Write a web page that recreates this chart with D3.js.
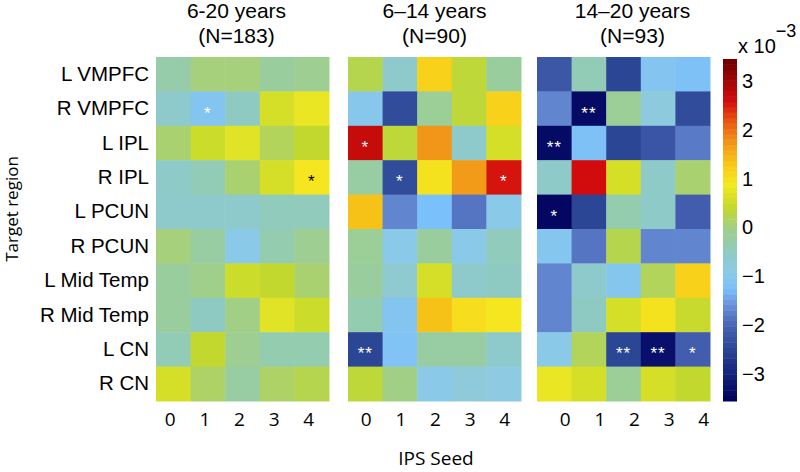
<!DOCTYPE html>
<html><head><meta charset="utf-8">
<script src="https://cdn.jsdelivr.net/npm/d3@7"></script>
<style>
body{margin:0;background:#fff;}
text{font-family:"Liberation Sans",Arial,sans-serif;fill:#000;}
</style></head>
<body><svg id="c" width="800" height="472"></svg>
<script>
const regions = ["L VMPFC","R VMPFC","L IPL","R IPL","L PCUN","R PCUN","L Mid Temp","R Mid Temp","L CN","R CN"];
const seeds = ["0","1","2","3","4"];
const panelTitles = ["6-20 years","6\u201314 years","14\u201320 years"];
const panelN = ["(N=183)","(N=90)","(N=93)"];
// values in units of 1e-3, rows = regions, cols = seeds
const vals620 = [
  [-0.3, 0.05, 0.05, -0.2, -0.1],
  [-0.6, -1.1, -0.5, 0.6, 0.8],
  [0.1, 0.5, 0.7, 0.2, 0.4],
  [-0.55, -0.4, 0.1, 0.6, 0.95],
  [-0.6, -0.6, -0.6, -0.45, -0.45],
  [0.05, -0.25, -0.95, -0.35, -0.1],
  [-0.2, -0.05, 0.5, 0.4, 0.1],
  [-0.2, -0.5, 0.0, 0.7, 0.5],
  [-0.4, 0.4, -0.1, -0.35, -0.35],
  [0.6, 0.15, -0.25, 0.15, 0.25]
];
const vals614 = [
  [0.25, -0.6, 1.2, 0.35, -0.2],
  [-1.0, -2.4, -0.15, 0.35, 1.2],
  [2.7, 0.35, 1.75, -0.6, 0.6],
  [-0.25, -2.4, 1.0, 1.7, 2.55],
  [1.35, -1.7, -1.25, -1.85, -0.95],
  [-0.15, -0.95, -0.2, -0.95, -0.45],
  [-0.2, -0.65, 0.6, -0.6, -0.5],
  [-0.35, -1.1, 1.35, 1.05, 0.95],
  [-2.5, -1.15, -0.25, -0.25, -0.6],
  [0.35, 0.0, -0.95, -0.75, -0.85]
];
const vals1420 = [
  [-2.2, -0.4, -2.5, -1.1, -1.2],
  [-1.7, -3.4, -0.15, -0.8, -2.4],
  [-3.4, -1.2, -2.5, -2.25, -1.8],
  [-0.55, 2.6, 0.6, -0.55, 0.1],
  [-3.45, -2.5, -0.35, -0.55, -2.1],
  [-1.05, -1.85, 0.25, -1.7, -1.7],
  [-1.7, -0.6, -1.05, 0.2, 1.2],
  [-1.7, -0.5, 0.6, 1.0, 0.45],
  [-0.95, 0.2, -2.5, -3.3, -2.1],
  [0.8, 0.6, -0.15, 0.6, 0.4]
];
// significance markers
const sig620 = [
  ["","","","",""],["","*","","",""],["","","","",""],["","","","","*"],["","","","",""],
  ["","","","",""],["","","","",""],["","","","",""],["","","","",""],["","","","",""]
];
const sig614 = [
  ["","","","",""],["","","","",""],["*","","","",""],["","*","","","*"],["","","","",""],
  ["","","","",""],["","","","",""],["","","","",""],["**","","","",""],["","","","",""]
];
const sig1420 = [
  ["","","","",""],["","**","","",""],["**","","","",""],["","","","",""],["*","","","",""],
  ["","","","",""],["","","","",""],["","","","",""],["","","**","**","*"],["","","","",""]
];
const colorbarTicks = [-3,-2,-1,0,1,2,3];
const colorDomain = [-3.55, 3.45];

const panels = [
  {vals: vals620, sig: sig620},
  {vals: vals614, sig: sig614},
  {vals: vals1420, sig: sig1420}
];

const cmapStops = [
  [-3.55,"#00005c"],[-3.0,"#14237c"],[-2.5,"#2c4696"],[-2.0,"#4863b3"],[-1.6,"#6a90da"],
  [-1.25,"#7ac0fa"],[-0.9,"#8ecae6"],[-0.5,"#8ecac2"],[0.0,"#a2cf86"],[0.4,"#c2d82e"],
  [0.9,"#f4ea20"],[1.3,"#f8c818"],[1.8,"#f09018"],[2.2,"#e85410"],[2.6,"#d20c0c"],[3.45,"#6a0000"]
];
const color = d3.scaleLinear().domain(cmapStops.map(d=>d[0])).range(cmapStops.map(d=>d[1])).clamp(true);

const svg = d3.select("#c");
const panelX = [156, 348, 537];
const panelW = 173, topY = 57, H = 344;
const tickShift = [-3, 1, 11];

const y = d3.scaleBand().domain(regions).range([topY, topY+H]);

panels.forEach((p, pi) => {
  const x = d3.scaleBand().domain(seeds).range([panelX[pi], panelX[pi]+panelW]);
  const g = svg.append("g");
  const cells = [];
  p.vals.forEach((row, ri) => row.forEach((v, ci) => cells.push({r: regions[ri], c: seeds[ci], v, s: p.sig[ri][ci]})));
  g.selectAll("rect").data(cells).join("rect")
    .attr("x", d => x(d.c)).attr("y", d => y(d.r))
    .attr("width", x.bandwidth()+0.5).attr("height", y.bandwidth()+0.5)
    .attr("fill", d => color(d.v));
  g.selectAll("text.sig").data(cells.filter(d => d.s)).join("text").attr("class","sig")
    .attr("x", d => x(d.c)+x.bandwidth()/2).attr("y", d => y(d.r)+y.bandwidth()/2+10)
    .attr("text-anchor","middle").style("font-size","17px")
    .style("letter-spacing","1px")
    .style("fill", d => d.v > 0.8 && d.v < 1.5 ? "#000" : "#fff")
    .text(d => d.s);
  // x axis
  const xa = svg.append("g").attr("transform", `translate(${tickShift[pi]},${topY+H+5})`)
    .call(d3.axisBottom(x).tickSize(0).tickPadding(6));
  xa.select(".domain").remove();
  xa.selectAll("text").style("font-family","'Open Sans',sans-serif").style("font-size","19px").attr("fill","#000");
  // titles
  const cx = panelX[pi] + panelW/2 + [-6, 0, 9][pi];
  svg.append("text").attr("x", cx).attr("y", 18).attr("text-anchor","middle").style("font-size","21px").text(panelTitles[pi]);
  svg.append("text").attr("x", cx).attr("y", 43).attr("text-anchor","middle").style("font-size","21px").text(panelN[pi]);
});

// row labels
const ya = svg.append("g").attr("transform","translate(149,0)").call(d3.axisLeft(y).tickSize(0).tickPadding(0));
ya.select(".domain").remove();
ya.selectAll("text").style("font-family","'Liberation Sans',Arial,sans-serif").style("font-size","20.5px").attr("fill","#000");

svg.append("text").attr("transform","translate(18,209) rotate(-90)").attr("text-anchor","middle")
  .style("font-family","'Open Sans',sans-serif").style("font-size","17px").text("Target region");
svg.append("text").attr("x",436).attr("y",465).attr("text-anchor","middle")
  .style("font-family","'Open Sans',sans-serif").style("font-size","19px").text("IPS Seed");

// colorbar
const cbX = 723, cbW = 14;
const cy = d3.scaleLinear().domain(colorDomain).range([401, 59]);
const nSteps = 64;
const stepVals = d3.range(nSteps).map(i => colorDomain[0] + (i+0.5)*(colorDomain[1]-colorDomain[0])/nSteps);
const stepH = (colorDomain[1]-colorDomain[0])/nSteps;
svg.append("g").selectAll("rect").data(stepVals).join("rect")
  .attr("x", cbX).attr("width", cbW)
  .attr("y", d => cy(d + stepH/2)).attr("height", d => cy(d - stepH/2) - cy(d + stepH/2) + 0.5)
  .attr("fill", d => color(d));
const ca = svg.append("g").attr("transform",`translate(${cbX+cbW},0)`)
  .call(d3.axisRight(cy).tickValues(colorbarTicks).tickSize(0).tickPadding(5).tickFormat(d => d < 0 ? "\u2212" + Math.abs(d) : d));
ca.select(".domain").remove();
ca.selectAll("text").style("font-family","'Liberation Sans',Arial,sans-serif").style("font-size","20px").attr("fill","#000");
const sci = svg.append("text").attr("x", 738).attr("y", 53).style("font-size","20px");
sci.append("tspan").text("x 10");
sci.append("tspan").attr("dy", -16).style("font-size","18px").text("\u22123");
</script></body></html>
